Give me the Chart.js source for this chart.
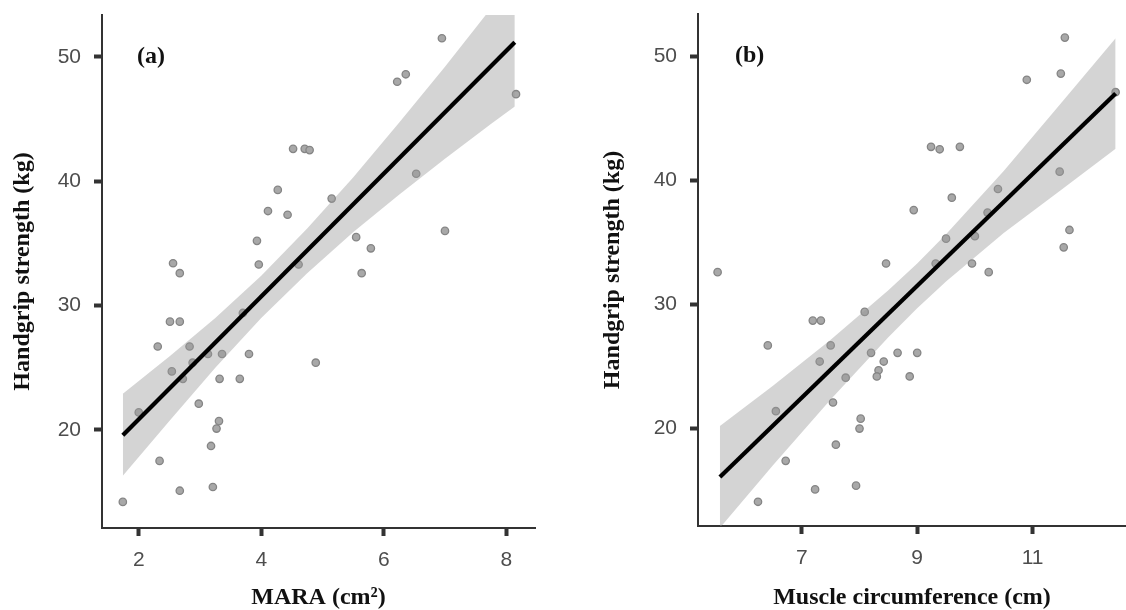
<!DOCTYPE html>
<html><head><meta charset="utf-8">
<script src="https://cdn.jsdelivr.net/npm/chart.js@4.4.1/dist/chart.umd.min.js"></script>
<style>
html,body{margin:0;padding:0;background:#fff;}
#wrap{position:relative;width:1126px;height:610px;background:#fff;overflow:hidden;}
canvas{position:absolute;top:0;}
</style></head><body>
<div id="wrap">
<canvas id="ca" width="563" height="610" style="left:0"></canvas>
<canvas id="cb" width="563" height="610" style="left:563px"></canvas>
</div>
<script>
// ---------- Panel (a): MARA vs handgrip ----------
const maraX = [1.74,2.00,2.31,2.34,2.51,2.67,2.54,2.72,2.67,2.83,2.88,2.98,3.13,3.36,3.32,3.31,3.27,3.18,3.21,3.65,3.80,3.70,4.89,2.56,2.67,3.93,3.96,4.11,4.27,6.95,6.22,6.36,8.16,4.52,4.71,4.79,4.43,5.15,6.53,7.00,5.55,5.79,5.64,4.61];
const gripA = [14.2,21.4,26.7,17.5,28.7,28.7,24.7,24.1,15.1,26.7,25.4,22.1,26.1,26.1,24.1,20.7,20.1,18.7,15.4,24.1,26.1,29.4,25.4,33.4,32.6,35.2,33.3,37.6,39.3,51.5,48.0,48.6,47.0,42.6,42.6,42.5,37.3,38.6,40.6,36.0,35.5,34.6,32.6,33.3];
const fitAx = [1.74, 8.14];
const fitAy = [19.56, 51.17];
const bandAx    = [1.74, 2.5, 3.25, 4.0, 4.75, 5.5, 6.25, 7.0, 7.75, 8.14];
const bandAlow  = [16.3, 20.7, 25.0, 29.0, 32.6, 35.9, 38.9, 41.8, 44.6, 46.0];
const bandAhigh = [22.9, 25.9, 29.0, 32.4, 36.2, 40.3, 44.7, 49.2, 53.9, 56.4];
const ticksAx = [2, 4, 6, 8];
const ticksAy = [20, 30, 40, 50];

// ---------- Panel (b): Muscle circumference vs handgrip ----------
const circX = [5.54,6.24,6.41,6.55,6.72,7.23,7.19,7.33,7.50,7.31,7.54,7.59,7.76,7.94,8.09,8.20,8.42,8.66,9.00,8.33,8.30,8.87,8.02,8.00,11.56,11.49,10.90,12.44,9.24,9.39,9.74,11.47,10.40,9.60,8.94,10.22,9.50,10.00,11.64,11.54,8.46,9.32,9.95,10.24];
const gripB = [32.6,14.1,26.7,21.4,17.4,15.1,28.7,28.7,26.7,25.4,22.1,18.7,24.1,15.4,29.4,26.1,25.4,26.1,26.1,24.7,24.2,24.2,20.8,20.0,51.5,48.6,48.1,47.1,42.7,42.5,42.7,40.7,39.3,38.6,37.6,37.4,35.3,35.5,36.0,34.6,33.3,33.3,33.3,32.6];
const fitBx = [5.58, 12.44];
const fitBy = [16.1, 47.0];
const bandBx    = [5.58, 6.5, 7.5, 8.5, 9.0, 9.5, 10.5, 11.5, 12.44];
const bandBlow  = [12.0, 17.05, 22.35, 27.35, 29.7, 31.85, 35.75, 39.25, 42.55];
const bandBhigh = [20.2, 23.45, 27.15, 31.15, 33.3, 35.65, 40.75, 46.25, 51.45];
const ticksBx = [7, 9, 11];
const ticksBy = [20, 30, 40, 50];

const xy = (xs, ys) => xs.map((x, i) => ({x: x, y: ys[i]}));

const panelLabel = {
  id: 'panelLabel',
  afterDraw(chart, args, o) {
    const {ctx, chartArea, scales} = chart;
    ctx.save();
    ctx.font = 'bold 24px "Liberation Serif"';
    ctx.fillStyle = '#111';
    ctx.textAlign = 'left';
    ctx.textBaseline = 'middle';
    ctx.fillText(o.text, chartArea.left + o.dx, scales.y.getPixelForValue(50));
    ctx.restore();
  }
};

function makePanel(id, p) {
  const tickFont = {family: '"Liberation Sans", Arial, sans-serif', size: 21};
  const titleFont = {family: '"Liberation Serif", serif', size: 24, weight: 'bold', lineHeight: 1.0};
  new Chart(document.getElementById(id), {
    type: 'scatter',
    data: {
      datasets: [
        {type: 'scatter', data: xy(p.px, p.py), order: 4,
         pointRadius: 3.7, pointBackgroundColor: '#a8a8a8', pointBorderColor: '#858585', pointBorderWidth: 1.3, clip: false},
        {type: 'line', data: xy(p.bx, p.blow), order: 3, borderWidth: 0, pointRadius: 0, fill: false, clip: 0},
        {type: 'line', data: xy(p.bx, p.bhigh), order: 2, borderWidth: 0, pointRadius: 0,
         fill: '-1', backgroundColor: 'rgba(153,153,153,0.42)', clip: 0},
        {type: 'line', data: xy(p.fx, p.fy), order: 1, borderColor: '#000', borderWidth: 4.2, pointRadius: 0, fill: false, clip: 0, borderCapStyle: 'butt'}
      ]
    },
    options: {
      responsive: false,
      animation: false,
      events: [],
      devicePixelRatio: 1,
      layout: {autoPadding: false, padding: {top: p.padTop, right: p.padRight, left: 0, bottom: 0}},
      plugins: {legend: {display: false}, tooltip: {enabled: false}, panelLabel: {text: p.label, dx: p.labelDx}},
      scales: {
        x: {
          type: 'linear', min: p.xmin, max: p.xmax,
          afterBuildTicks: s => { s.ticks = p.tx.map(v => ({value: v})); },
          afterFit: s => { s.height = p.xh; s.paddingLeft = 0; s.paddingRight = 0; },
          grid: {drawOnChartArea: false, drawTicks: true, tickLength: 8, tickWidth: 4, tickColor: '#333'},
          border: {display: true, color: '#333', width: 2},
          ticks: {font: tickFont, color: '#4d4d4d', padding: 12, maxRotation: 0},
          title: {display: true, text: p.xtitle, font: titleFont, color: '#111', padding: {top: 0, bottom: 0}}
        },
        y: {
          type: 'linear', min: p.ymin, max: p.ymax,
          afterBuildTicks: s => { s.ticks = p.ty.map(v => ({value: v})); },
          afterFit: s => { s.width = p.yw; s.paddingTop = 0; s.paddingBottom = 0; },
          grid: {drawOnChartArea: false, drawTicks: true, tickLength: 8, tickWidth: 4, tickColor: '#333'},
          border: {display: true, color: '#333', width: 2},
          ticks: {font: tickFont, color: '#4d4d4d', padding: 13},
          title: {display: true, text: 'Handgrip strength (kg)', font: titleFont, color: '#111', padding: {top: p.ytPad, bottom: 0}}
        }
      }
    },
    plugins: [panelLabel]
  });
}

makePanel('ca', {
  px: maraX, py: gripA, fx: fitAx, fy: fitAy, bx: bandAx, blow: bandAlow, bhigh: bandAhigh,
  tx: ticksAx, ty: ticksAy, xmin: 1.4, xmax: 8.47, ymin: 12.1, ymax: 53.37,
  padTop: 15, padRight: 28, xh: 82, yw: 102, ytPad: 11,
  xtitle: 'MARA (cm²)', label: '(a)', labelDx: 35
});
makePanel('cb', {
  px: circX, py: gripB, fx: fitBx, fy: fitBy, bx: bandBx, blow: bandBlow, bhigh: bandBhigh,
  tx: ticksBx, ty: ticksBy, xmin: 5.2, xmax: 12.62, ymin: 12.15, ymax: 53.4,
  padTop: 14, padRight: 0, xh: 84, yw: 135, ytPad: 38,
  xtitle: 'Muscle circumference (cm)', label: '(b)', labelDx: 37
});
</script>
</body></html>
